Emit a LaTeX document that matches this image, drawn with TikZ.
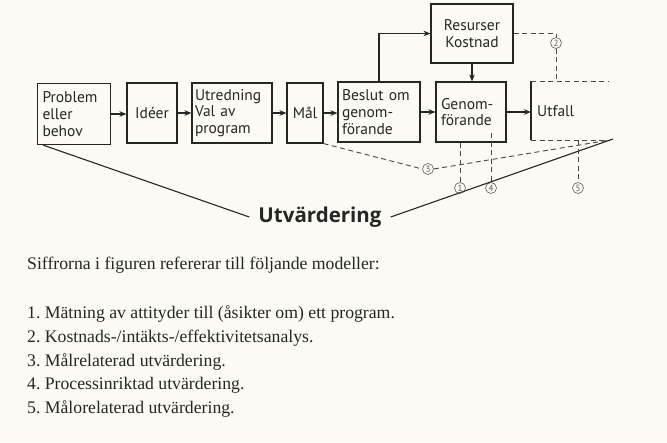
\documentclass[tikz,border=0pt]{standalone}
\usepackage{fontspec}
\setmainfont{Liberation Serif}
\newfontfamily\boxfont{PT Sans}
\newfontfamily\titlefont{Open Sans}
\usetikzlibrary{arrows.meta}
\definecolor{ink}{HTML}{262626}
\definecolor{paper}{HTML}{FCFBF4}
\definecolor{markgray}{HTML}{5E5E5E}
\tikzset{
  stage/.style={draw=ink, line width=1.1pt, align=left, text=ink, font=\boxfont\fontsize{15.5}{16.7}\selectfont,
    inner xsep=5pt, inner ysep=2pt, minimum height=60pt},
  flow/.style={draw=ink, line width=1.1pt, -{Stealth[length=7pt,width=5.5pt]}},
  evalline/.style={draw=ink, line width=1.1pt},
  model/.style={draw=ink!85, line width=0.9pt, dash pattern=on 5pt off 3.5pt},
  modelno/.style={circle, draw=markgray, line width=0.6pt, text=markgray, inner sep=0pt,
    minimum size=11pt, font=\boxfont\fontsize{9}{9}\selectfont},
  listline/.style={anchor=west, text=ink, inner sep=0pt, font=\fontsize{17.7}{20}\selectfont}
}
\begin{document}
\begin{tikzpicture}[x=1pt,y=-1pt]
            % Page and background
            \fill[paper] (0,0) rectangle (667,442);
            \useasboundingbox (0,0) rectangle (667,442);

            % Process boxes
            \node[stage, text width=63pt, minimum height=61pt] (prob) at (74,114) {Problem\\eller\\behov};
            \node[stage, align=center, minimum width=50pt] (idea) at (152,113) {Idéer};
            \node[stage, inner xsep=3pt, text width=74pt] (study) at (232,113) {Utredning\\Val av\\program};
            \node[stage, align=center, minimum width=36pt] (goal) at (305,113) {Mål};
            \node[stage, inner xsep=4pt, text width=74pt] (decide) at (379,112) {Beslut om\\genom-\\förande};
            \node[stage, align=center, minimum width=82pt, minimum height=59pt] (res) at (472,33.5) {Resurser\\Kostnad};
            \node[stage, inner xsep=5pt, text width=60pt] (impl) at (471,112) {Genom-\\förande};

            % Open box for the outcome
            \coordinate (utTL) at (531,81);
            \coordinate (utBL) at (531,140);
            \coordinate (utTR) at (608,81);
            \coordinate (utBR) at (610,140);
            \node[anchor=west, inner sep=0pt, text=ink, font=\boxfont\fontsize{15.5}{16.7}\selectfont] (outc) at (537,111) {Utfall};
            \draw[evalline] (utTL) -- (utBL);
            \draw[model] (utTL) -- (utTR);
            \draw[model] (utBL) -- (utBR);

            % Flow arrows
            \draw[flow] (prob.east) -- (idea.west |- prob.east);
            \draw[flow] (idea.east) -- (study.west |- idea.east);
            \draw[flow] (study.east) -- (goal.west |- study.east);
            \draw[flow] (goal.east) -- (decide.west |- goal.east);
            \draw[flow] (decide.east) -- (impl.west |- decide.east);
            \draw[flow] (impl.east) -- (utBL |- impl.east);
            \draw[flow] (decide.north) |- (res.west);
            \draw[flow] (res.south) -- (impl.north -| res.south);

            % Evaluation line
            \node[font=\titlefont\bfseries\fontsize{20.5}{22}\selectfont, text=ink, inner xsep=9pt] (utv) at (320,217) {Utvärdering};
            \coordinate (evR) at (613,139);
            \draw[evalline] ([xshift=6pt]prob.south west) -- (utv.west);
            \draw[evalline] (utv.east) -- (evR);

            % Model marks
            \node[modelno] (m1) at (460,188) {1};
            \node[modelno] (m2) at (556,43) {2};
            \node[modelno] (m3) at (428,169) {3};
            \node[modelno] (m4) at (491,188) {4};
            \node[modelno] (m5) at (578,188) {5};
            \draw[model] (res.east) -| (m2.north);
            \draw[model] (m2.south) -- (m2 |- utTL);
            \draw[model] (goal.south east) -- (m3.west);
            \draw[model] (m3.east) -- (utBR);
            \draw[model] (m1 |- impl.south) -- (m1.north);
            \draw[model] (491,133) -- (m4.north);
            \draw[model] (m5 |- utBL) -- (m5.north);

            % Legend text
            \node[listline] (head) at (27,265) {Siffrorna i figuren refererar till följande modeller:};
            \foreach \i/\txt in {1/{Mätning av attityder till (åsikter om) ett program.},
                                 2/{Kostnads-/intäkts-/effektivitetsanalys.},
                                 3/{Målrelaterad utvärdering.},
                                 4/{Processinriktad utvärdering.},
                                 5/{Målorelaterad utvärdering.}}
                \node[listline] (item\i) at (27,{290.5+23.7*\i}) {\i.~\txt};
\end{tikzpicture}
\end{document}
